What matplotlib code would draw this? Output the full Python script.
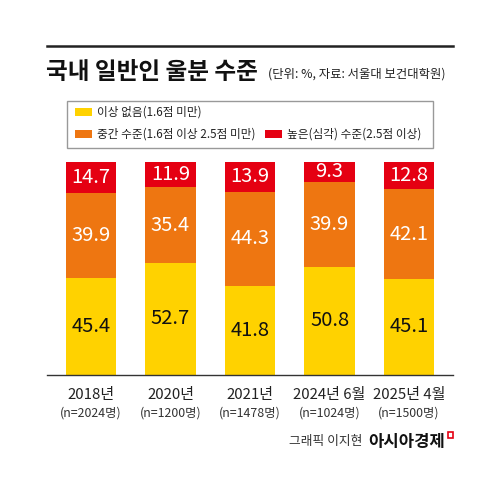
import matplotlib.pyplot as plt
import matplotlib.patches as mpatches
import numpy as np

plt.rcParams['font.family'] = ['Noto Sans CJK KR', 'DejaVu Sans']

# ========= DATA =========
years = ["2018년", "2020년", "2021년", "2024년 6월", "2025년 4월"]
samples = ["(n=2024명)", "(n=1200명)", "(n=1478명)", "(n=1024명)", "(n=1500명)"]
normal = [45.4, 52.7, 41.8, 50.8, 45.1]      # 이상 없음
moderate = [39.9, 35.4, 44.3, 39.9, 42.1]    # 중간 수준
severe = [14.7, 11.9, 13.9, 9.3, 12.8]       # 높은(심각) 수준

series_names = ["이상 없음(1.6점 미만)", "중간 수준(1.6점 이상 2.5점 미만)", "높은(심각) 수준(2.5점 이상)"]
colors = ["#FFD200", "#EE7611", "#E50012"]
text_colors = ["#111111", "white", "white"]

# ========= FIGURE =========
fig = plt.figure(figsize=(5, 5), dpi=100)
ax = fig.add_axes([0.094, 0.25, 0.812, 0.426])

x = np.arange(len(years))
bottom = np.zeros(len(years))
for vals, col, tcol in zip([normal, moderate, severe], colors, text_colors):
    ax.bar(x, vals, width=0.63, bottom=bottom, color=col, linewidth=0)
    for xi, b, v in zip(x, bottom, vals):
        ax.text(xi, b + v / 2, f"{v}", ha="center", va="center",
                color=tcol, fontsize=14.5)
    bottom += np.array(vals)

ax.set_xlim(-0.553, len(years) - 1 + 0.553)
ax.set_ylim(0, 100)
for s in ["top", "right", "left"]:
    ax.spines[s].set_visible(False)
ax.spines["bottom"].set_color("#333333")
ax.spines["bottom"].set_linewidth(1)
ax.set_yticks([])
ax.set_xticks(x)
ax.set_xticklabels([])
ax.tick_params(axis="x", length=0)

for xi, yl, sl in zip(x, years, samples):
    ax.text(xi, -9.6, yl, ha="center", va="center", fontsize=10.8,
            color="#222222", clip_on=False)
    ax.text(xi, -17.8, sl, ha="center", va="center", fontsize=8.9,
            color="#333333", clip_on=False)

# top rule
fig.add_artist(plt.Line2D([0.094, 0.906], [0.908, 0.908], color="#222222", lw=1.8))

# title
fig.text(0.092, 0.856, "국내 일반인 울분 수준", fontsize=17, fontweight="bold",
         ha="left", va="center", color="#111111")
fig.text(0.536, 0.851, "(단위: %, 자료: 서울대 보건대학원)", fontsize=8.9,
         ha="left", va="center", color="#222222")

# legend box
fig.add_artist(mpatches.Rectangle((0.134, 0.704), 0.732, 0.094, transform=fig.transFigure,
                                  fill=False, edgecolor="#999999", lw=1))
leg_pos = [(0.150, 0.776), (0.150, 0.732), (0.530, 0.732)]
for (lx, ly), name, col in zip(leg_pos, series_names, colors):
    fig.add_artist(mpatches.Rectangle((lx, ly - 0.008), 0.034, 0.016,
                                      transform=fig.transFigure, color=col, lw=0))
    fig.text(lx + 0.044, ly, name, fontsize=8.4, ha="left", va="center", color="#222222")

# credit
fig.text(0.724, 0.116, "그래픽 이지현", fontsize=9.2, ha="right", va="center", color="#333333")
fig.text(0.890, 0.116, "아시아경제", fontsize=12, fontweight="bold", ha="right",
         va="center", color="#111111")
fig.add_artist(mpatches.Rectangle((0.896, 0.124), 0.01, 0.012, transform=fig.transFigure,
                                  fill=False, edgecolor="#E50012", lw=1.2))

fig.savefig("out.png", dpi=100, facecolor="white")
